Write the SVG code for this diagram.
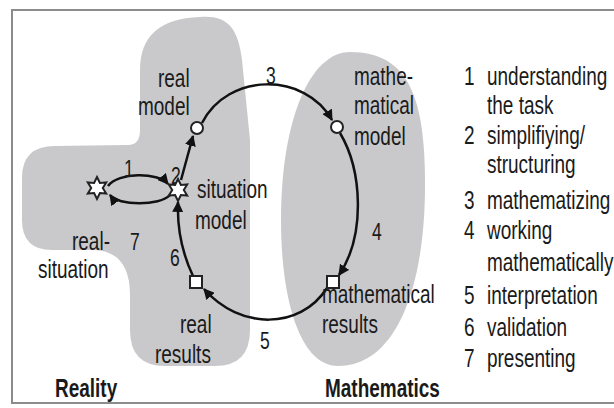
<svg xmlns="http://www.w3.org/2000/svg" width="614" height="408" viewBox="0 0 614 408">
<style>
text{font-family:"Liberation Sans",Arial,sans-serif;font-size:26px;fill:#1a1a1a}
.d{font-size:24px}
.b{font-weight:bold}
.blob{fill:#c9c9cc}
.c{fill:none;stroke:#111;stroke-width:2.5;marker-end:url(#ah)}
.n{fill:#fff;stroke:#222;stroke-width:2}
</style>
<defs>
<marker id="ah" viewBox="0 0 10 10" refX="9" refY="5" markerWidth="4.4" markerHeight="4.4" markerUnits="strokeWidth" orient="auto"><path d="M0,0 L10,5 L0,10 z" fill="#111"/></marker>
<polygon id="star" points="0,-11 2.9,-5.02 9.2,-5.5 5.8,0 9.2,5.5 2.9,5.02 0,11 -2.9,5.02 -9.2,5.5 -5.8,0 -9.2,-5.5 -2.9,-5.02"/>
</defs>
<rect x="0" y="0" width="614" height="408" fill="#fff"/>
<rect x="12" y="10" width="612" height="393" fill="none" stroke="#8c8c8c" stroke-width="2"/>

<g id="regions">
<path class="blob" d="M200 17 C225 15 238 25 242 60 L250 140 L250 330 Q250 366 215 366 L165 366 Q130 366 130 330 L130 295 Q130 252 95 250 L52 250 Q22 250 22 220 L22 178 Q22 146 55 146 L128 145 Q140 145 140 130 L140 70 Q140 19 200 17 Z"/>
<path class="blob" d="M350 52 C410 52 425 100 425 185 C425 290 395 366 338 366 C300 366 281 300 281 220 C281 120 310 52 350 52 Z"/>
<text class="b" transform="translate(55 397) scale(0.73 1)">Reality</text>
<text class="b" transform="translate(325 397) scale(0.73 1)">Mathematics</text>
</g>

<g id="connectors">
<path class="c" d="M108 186 C118 172 158 172 168 184"/>
<path class="c" d="M170 195 C160 206 118 206 110 195"/>
<path class="c" d="M181 180 L193 136"/>
<path class="c" d="M202 123 C228 72 305 72 332 120"/>
<path class="c" d="M340 133 C362 170 366 235 339 275"/>
<path class="c" d="M327 288 C300 330 240 330 204 289"/>
<path class="c" d="M193 276 C183 255 177 230 178 202"/>
<text class="d" transform="translate(124 177) scale(0.73 1)">1</text>
<text class="d" transform="translate(171 184) scale(0.73 1)">2</text>
<text class="d" transform="translate(266 84) scale(0.73 1)">3</text>
<text class="d" transform="translate(372 240) scale(0.73 1)">4</text>
<text class="d" transform="translate(260 349) scale(0.73 1)">5</text>
<text class="d" transform="translate(170 266) scale(0.73 1)">6</text>
<text class="d" transform="translate(130 250) scale(0.73 1)">7</text>
</g>

<g id="real-situation">
<use href="#star" class="n" transform="translate(97 188)"/>
<text transform="translate(72 250) scale(0.73 1)">real-</text>
<text transform="translate(38 278) scale(0.73 1)">situation</text>
</g>
<g id="situation-model">
<use href="#star" class="n" transform="translate(178 190)"/>
<text transform="translate(197 198) scale(0.73 1)">situation</text>
<text transform="translate(195 229) scale(0.73 1)">model</text>
</g>
<g id="real-model">
<circle class="n" cx="197" cy="128" r="6"/>
<text transform="translate(158 87) scale(0.73 1)">real</text>
<text transform="translate(138 115) scale(0.73 1)">model</text>
</g>
<g id="mathematical-model">
<circle class="n" cx="337" cy="127" r="6"/>
<text transform="translate(354 85) scale(0.73 1)">mathe-</text>
<text transform="translate(354 114) scale(0.73 1)">matical</text>
<text transform="translate(354 145) scale(0.73 1)">model</text>
</g>
<g id="mathematical-results">
<text transform="translate(322 303) scale(0.73 1)">mathematical</text>
<text transform="translate(322 333) scale(0.73 1)">results</text>
<rect class="n" x="327" y="276" width="12" height="12"/>
</g>
<g id="real-results">
<rect class="n" x="190" y="276" width="12" height="12"/>
<text transform="translate(180 333) scale(0.73 1)">real</text>
<text transform="translate(155 363) scale(0.73 1)">results</text>
</g>

<g id="legend">
<text transform="translate(464 85) scale(0.73 1)">1</text>
<text transform="translate(487 85) scale(0.73 1)">understanding</text>
<text transform="translate(487 114) scale(0.73 1)">the task</text>
<text transform="translate(464 144) scale(0.73 1)">2</text>
<text transform="translate(487 144) scale(0.73 1)">simplifiying/</text>
<text transform="translate(487 173) scale(0.73 1)">structuring</text>
<text transform="translate(464 209) scale(0.73 1)">3</text>
<text transform="translate(487 209) scale(0.73 1)">mathematizing</text>
<text transform="translate(464 239) scale(0.73 1)">4</text>
<text transform="translate(487 239) scale(0.73 1)">working</text>
<text transform="translate(487 271) scale(0.73 1)">mathematically</text>
<text transform="translate(464 304) scale(0.73 1)">5</text>
<text transform="translate(487 304) scale(0.73 1)">interpretation</text>
<text transform="translate(464 336) scale(0.73 1)">6</text>
<text transform="translate(487 336) scale(0.73 1)">validation</text>
<text transform="translate(464 367) scale(0.73 1)">7</text>
<text transform="translate(487 367) scale(0.73 1)">presenting</text>
</g>
</svg>
